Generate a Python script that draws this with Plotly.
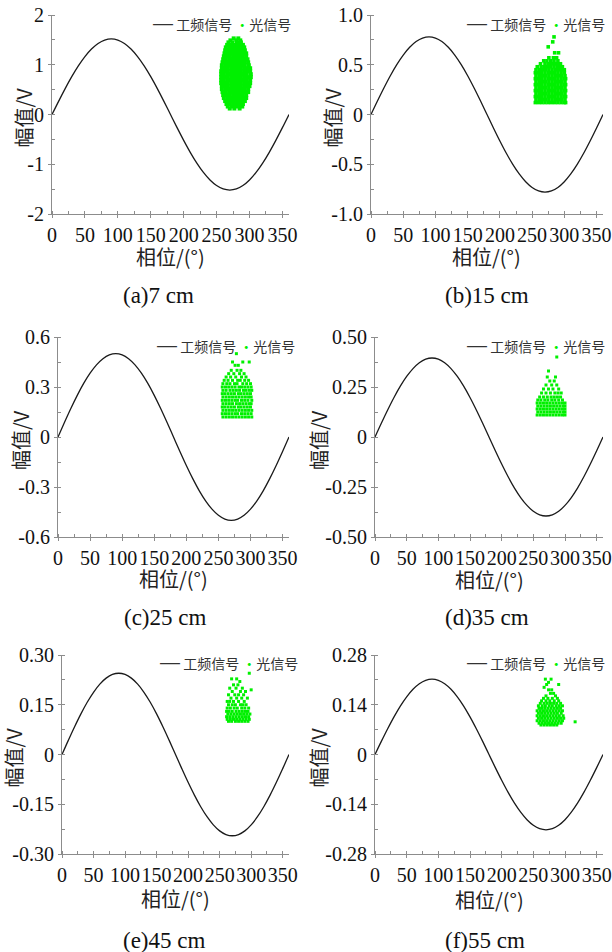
import plotly.graph_objects as go

W, H = 612, 952

# ---------------- data ----------------
PHASE = list(range(0, 361, 10))
SINE_SHAPE = [0.0, 0.174, 0.342, 0.5, 0.643, 0.766, 0.866, 0.94, 0.985, 1.0,
              0.985, 0.94, 0.866, 0.766, 0.643, 0.5, 0.342, 0.174, 0.0,
              -0.174, -0.342, -0.5, -0.643, -0.766, -0.866, -0.94, -0.985, -1.0,
              -0.985, -0.94, -0.866, -0.766, -0.643, -0.5, -0.342, -0.174, 0.0]
AMPLITUDE = [1.52, 0.78, 0.50, 0.395, 0.245, 0.212]

CAPTIONS = ["(a)7 cm", "(b)15 cm", "(c)25 cm", "(d)35 cm", "(e)45 cm", "(f)55 cm"]
X_TICKS = [0, 50, 100, 150, 200, 250, 300, 350]
Y_RANGES = [(-2, 2), (-1, 1), (-0.6, 0.6), (-0.5, 0.5), (-0.3, 0.3), (-0.28, 0.28)]
Y_TICKVALS = [[-2, -1, 0, 1, 2], [-1, -0.5, 0, 0.5, 1], [-0.6, -0.3, 0, 0.3, 0.6],
              [-0.5, -0.25, 0, 0.25, 0.5], [-0.3, -0.15, 0, 0.15, 0.3],
              [-0.28, -0.14, 0, 0.14, 0.28]]
Y_TICKTEXT = [["-2", "-1", "0", "1", "2"], ["-1.0", "-0.5", "0", "0.5", "1.0"],
              ["-0.6", "-0.3", "0", "0.3", "0.6"], ["-0.50", "-0.25", "0", "0.25", "0.50"],
              ["-0.30", "-0.15", "0", "0.15", "0.30"], ["-0.28", "-0.14", "0", "0.14", "0.28"]]
Y_MINOR = [0.5, 0.25, 0.15, 0.125, 0.075, 0.07]
SERIES_NAMES = ["工频信号", "光信号"]

# light-signal points: rows of (amplitude, [phases])
LIGHT_A = [
    (1.53, [276, 283]), (1.49, [271, 280, 286]), (1.45, [268, 274, 281, 287]),
    (1.40, [266, 271, 276, 281, 286, 290]), (1.35, [264, 269, 274, 279, 284, 289, 292]),
    (1.29, [263, 268, 273, 278, 283, 288, 293]), (1.23, [262, 266, 271, 276, 281, 286, 291, 295]),
    (1.17, [261, 265, 270, 275, 280, 285, 290, 295]), (1.11, [260, 264, 269, 274, 279, 284, 289, 294, 297]),
    (1.05, [259, 263, 268, 273, 278, 283, 288, 293, 298]), (0.99, [258, 263, 268, 273, 278, 283, 288, 293, 299]),
    (0.93, [258, 262, 267, 272, 277, 282, 287, 292, 297, 301]),
    (0.87, [257, 262, 267, 272, 277, 282, 287, 292, 297, 301]),
    (0.81, [257, 261, 266, 271, 276, 281, 286, 291, 296, 302]),
    (0.75, [257, 262, 267, 272, 277, 282, 287, 292, 297, 302]),
    (0.69, [257, 261, 266, 271, 276, 281, 286, 291, 296, 301]),
    (0.63, [257, 262, 267, 272, 277, 282, 287, 292, 297, 301]),
    (0.57, [258, 262, 267, 272, 277, 282, 287, 292, 297, 300]),
    (0.51, [258, 263, 268, 273, 278, 283, 288, 293, 298]),
    (0.45, [259, 264, 269, 274, 279, 284, 289, 294, 298]),
    (0.39, [260, 265, 270, 275, 280, 285, 290, 295]),
    (0.33, [261, 266, 271, 276, 281, 286, 291, 295]),
    (0.27, [263, 268, 273, 278, 283, 288, 293]), (0.21, [265, 270, 275, 280, 285, 290]),
    (0.16, [267, 273, 278, 284, 289]), (0.12, [270, 277, 285]),
]
LIGHT_B = [
    (0.78, [284]), (0.73, [282]), (0.68, [275]), (0.62, [285, 291]),
    (0.57, [276, 283, 288]), (0.54, [268, 273, 279, 284, 290]),
    (0.51, [263, 270, 275, 280, 285, 289, 294]),
    (0.48, [258, 264, 269, 274, 279, 284, 289, 293, 297]),
    (0.45, [256, 261, 266, 271, 276, 281, 286, 291, 296, 300]),
    (0.42, [255, 260, 265, 270, 275, 280, 285, 290, 295, 300]),
    (0.39, [256, 261, 266, 271, 276, 281, 286, 291, 296, 301]),
    (0.36, [255, 260, 265, 270, 275, 280, 285, 290, 295, 300, 302]),
    (0.33, [256, 261, 266, 271, 276, 281, 286, 291, 296, 301]),
    (0.30, [255, 260, 265, 270, 275, 280, 285, 290, 295, 300, 302]),
    (0.27, [256, 261, 266, 271, 276, 281, 286, 291, 296, 301]),
    (0.24, [255, 260, 265, 270, 275, 280, 285, 290, 295, 300, 302]),
    (0.21, [256, 261, 266, 271, 276, 281, 286, 291, 296, 301]),
    (0.18, [255, 260, 265, 270, 275, 280, 285, 290, 295, 300, 302]),
    (0.15, [256, 261, 266, 271, 276, 281, 286, 291, 296, 301]),
    (0.12, [255, 260, 265, 270, 275, 280, 285, 290, 295, 300, 302]),
]
LIGHT_C = [
    (0.50, [278]), (0.45, [272, 288, 298]), (0.43, [276, 281]), (0.40, [270, 279, 285]),
    (0.38, [266, 274, 283, 290]), (0.36, [262, 269, 277, 286, 293]),
    (0.34, [259, 265, 272, 280, 284, 291, 297]),
    (0.32, [257, 263, 268, 275, 279, 288, 294, 300]),
    (0.30, [256, 261, 266, 271, 276, 282, 286, 291, 296, 301]),
    (0.28, [257, 262, 268, 273, 278, 283, 289, 293, 298, 302]),
    (0.26, [256, 260, 265, 270, 275, 281, 285, 290, 295, 300]),
    (0.24, [257, 262, 267, 272, 277, 282, 287, 292, 297, 301]),
    (0.22, [256, 261, 266, 271, 276, 280, 286, 291, 296, 302]),
    (0.20, [257, 262, 267, 272, 278, 283, 288, 293, 298, 301]),
    (0.18, [256, 260, 265, 270, 275, 281, 285, 290, 295, 300]),
    (0.16, [257, 262, 267, 272, 277, 282, 287, 292, 297, 302]),
    (0.14, [256, 261, 266, 271, 276, 280, 286, 291, 296, 301]),
    (0.12, [257, 262, 267, 272, 277, 282, 287, 292, 297, 302]),
]
LIGHT_D = [
    (0.40, [287]), (0.33, [274]), (0.30, [272, 285]), (0.28, [276, 283]),
    (0.26, [270, 279, 287]), (0.24, [266, 274, 281, 290]),
    (0.22, [263, 270, 277, 284, 289, 294]), (0.20, [260, 266, 272, 278, 283, 288, 293]),
    (0.185, [257, 262, 268, 273, 279, 284, 290, 296]),
    (0.17, [256, 261, 266, 271, 276, 281, 286, 291, 296, 300]),
    (0.155, [257, 262, 267, 272, 277, 282, 287, 292, 297, 300]),
    (0.14, [256, 261, 266, 271, 276, 281, 286, 291, 296, 300]),
    (0.125, [257, 262, 267, 272, 277, 282, 287, 292, 297, 300]),
    (0.11, [256, 261, 266, 271, 276, 281, 286, 291, 296, 300]),
]
LIGHT_E = [
    (0.245, [297]), (0.228, [269, 277]), (0.22, [282]), (0.21, [272, 279]),
    (0.20, [266, 276, 286]), (0.195, [300]), (0.19, [270, 283, 291]),
    (0.18, [264, 274, 280, 288]), (0.17, [268, 277, 285, 294]),
    (0.16, [262, 266, 272, 280, 289]), (0.15, [264, 270, 275, 283, 287, 292]),
    (0.14, [262, 267, 273, 278, 285, 290, 296]),
    (0.13, [261, 265, 270, 276, 281, 286, 291, 295]),
    (0.122, [263, 268, 273, 278, 283, 288, 293, 298]),
    (0.114, [261, 266, 271, 276, 281, 286, 291, 296]),
    (0.106, [262, 267, 272, 277, 282, 287, 292, 297]),
    (0.10, [264, 269, 275, 280, 285, 290, 295]),
]
LIGHT_F = [
    (0.212, [269, 278]), (0.203, [274]), (0.197, [271, 290]), (0.189, [267]),
    (0.182, [274, 279]), (0.172, [277, 282]), (0.165, [270, 285]),
    (0.158, [266, 273, 280, 288]), (0.151, [263, 270, 276, 283, 290]),
    (0.144, [261, 267, 272, 277, 282, 287, 293]),
    (0.137, [258, 264, 269, 275, 280, 286, 291, 296]),
    (0.13, [259, 263, 268, 273, 278, 283, 288, 293]),
    (0.123, [256, 261, 266, 271, 276, 281, 286, 291, 296]),
    (0.116, [258, 263, 268, 273, 278, 283, 288, 294]),
    (0.109, [256, 261, 266, 271, 276, 281, 286, 291, 297]),
    (0.102, [258, 263, 268, 273, 278, 283, 288, 293, 298]),
    (0.095, [256, 261, 266, 271, 276, 281, 286, 291, 296]),
    (0.092, [316]),
    (0.088, [259, 264, 269, 274, 279, 284, 289, 294]),
    (0.083, [262, 267, 272, 277, 282, 287]),
]
LIGHT = [LIGHT_A, LIGHT_B, LIGHT_C, LIGHT_D, LIGHT_E, LIGHT_F]

# ---------------- layout (screen pixels) ----------------
# plot boxes: (left, right, top, bottom)
BOXES = [(52, 289, 15, 214), (371, 603, 15, 214),
         (58, 289, 337, 537), (375, 603, 337, 537),
         (62, 289, 655, 854), (375, 603, 655, 854)]
YTITLE_X = [23, 332, 20, 318, 13, 318]
XTITLE_Y = [257, 257, 578, 579, 898, 899]
CAPTION_POS = [(158, 295), (487, 295), (165, 617), (487, 617), (164, 940), (485, 940)]
LEGEND_POS = [(293, 23), (607, 23), (297, 345), (607, 345), (300, 662), (607, 662)]
MARKER_SIZE = [4, 3.6, 3, 3, 3, 3]

GREEN = "#00f000"
AXIS_COLOR = "#8c8c8c"
SERIF = "Liberation Serif, Times New Roman, serif"
CJK = "Noto Sans CJK SC, sans-serif"


def px(x):
    return x / W


def py(y):
    return 1 - y / H


fig = go.Figure()
annotations = []
for i in range(6):
    n = "" if i == 0 else str(i + 1)
    xa, ya = "x" + n, "y" + n
    amp = AMPLITUDE[i]
    fig.add_trace(go.Scatter(
        x=PHASE, y=[amp * s for s in SINE_SHAPE], mode="lines",
        line=dict(color="#1a1a1a", width=1.3, shape="spline"),
        name=SERIES_NAMES[0], showlegend=False, xaxis=xa, yaxis=ya))
    xs, ys = [], []
    for yv, row in LIGHT[i]:
        for xv in row:
            xs.append(xv)
            ys.append(yv)
    fig.add_trace(go.Scatter(
        x=xs, y=ys, mode="markers",
        marker=dict(color=GREEN, size=MARKER_SIZE[i], symbol="square", line=dict(width=0)),
        name=SERIES_NAMES[1], showlegend=False, xaxis=xa, yaxis=ya))

    l, r, t, b = BOXES[i]
    common = dict(showline=True, linecolor=AXIS_COLOR, linewidth=1, automargin=False,
                  ticks="outside", ticklen=3, tickcolor=AXIS_COLOR, tickwidth=1,
                  showgrid=False, zeroline=False, tickangle=0,
                  tickfont=dict(family=SERIF, size=20, color="#111"))
    fig.layout["xaxis" + n] = dict(
        domain=[px(l), px(r)], anchor=ya, range=[0, 360],
        tickvals=X_TICKS, ticktext=[str(v) for v in X_TICKS],
        minor=dict(dtick=25, tick0=0, ticks="inside", ticklen=3, tickcolor=AXIS_COLOR),
        **common)
    y0, y1 = Y_RANGES[i]
    fig.layout["yaxis" + n] = dict(
        domain=[py(b), py(t)], anchor=xa, range=[y0, y1],
        tickvals=Y_TICKVALS[i], ticktext=Y_TICKTEXT[i],
        minor=dict(dtick=Y_MINOR[i], tick0=0, ticks="inside", ticklen=3, tickcolor=AXIS_COLOR),
        **common)

    cx = (l + r) / 2
    cy = (t + b) / 2 + 3
    annotations.append(dict(text="幅值/V", x=px(YTITLE_X[i]), y=py(cy), xref="paper", yref="paper",
                            textangle=-90, showarrow=False, xanchor="center", yanchor="middle",
                            font=dict(family=CJK, size=20, color="#222")))
    annotations.append(dict(text="相位/(°)", x=px(cx), y=py(XTITLE_Y[i]), xref="paper", yref="paper",
                            showarrow=False, xanchor="center", yanchor="middle",
                            font=dict(family=CJK, size=20, color="#222")))
    capx, capy = CAPTION_POS[i]
    annotations.append(dict(text=CAPTIONS[i], x=px(capx), y=py(capy), xref="paper", yref="paper",
                            showarrow=False, xanchor="center", yanchor="middle",
                            font=dict(family=SERIF, size=23, color="#111")))
    lgx, lgy = LEGEND_POS[i]
    legend_text = ("<span style='font-family:Liberation Sans;font-size:20px'>—</span> "
                   + SERIES_NAMES[0]
                   + " <span style='color:%s'>·</span>" % GREEN + SERIES_NAMES[1])
    annotations.append(dict(text=legend_text, x=px(lgx), y=py(lgy), xref="paper", yref="paper",
                            showarrow=False, xanchor="right", yanchor="middle",
                            font=dict(family=CJK, size=14, color="#333")))

fig.update_layout(width=W, height=H, margin=dict(l=0, r=0, t=0, b=0),
                  paper_bgcolor="white", plot_bgcolor="white",
                  showlegend=False, annotations=annotations)

# remove the default page margin so the 612x952 figure fills the window exactly
fig.write_html("out.html", config={"displayModeBar": False},
               post_script="document.body.style.margin='0';document.body.style.overflow='hidden';")
